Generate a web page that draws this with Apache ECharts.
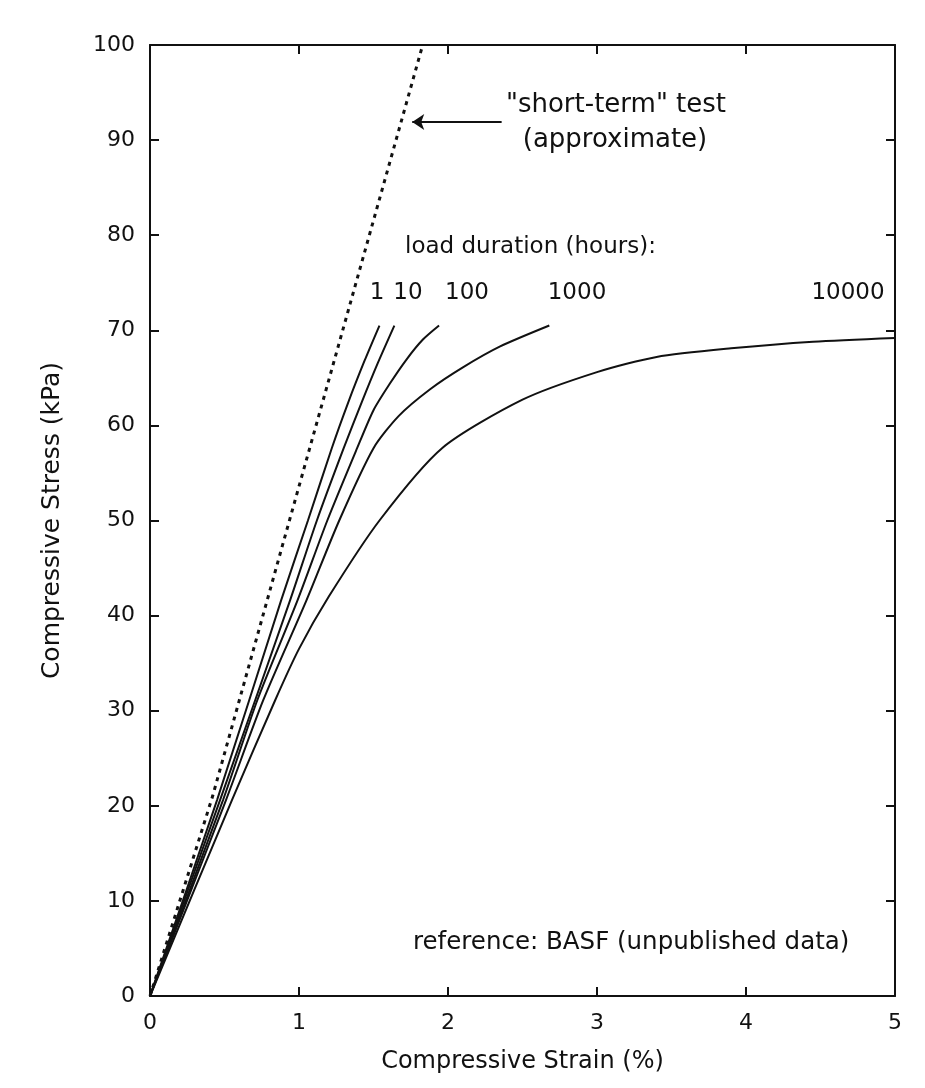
<!DOCTYPE html>
<html lang="en">
<head>
    <meta charset="UTF-8">
    <title>Compressive creep</title>
    <script src="https://cdn.jsdelivr.net/npm/echarts@6/dist/echarts.min.js"></script>
    <style>
        html, body { margin: 0; padding: 0; background: #fff; }
    </style>
</head>
<body>
    <div id="main" style="width: 925px;height:1088px;"></div>
    <script type="text/javascript">
        // strain (%) vs stress (kPa)
        var shortTerm = [[0, 0], [0.42, 21], [0.9, 48], [1.49, 81], [1.83, 100]];
        var hr1 = [[0, 0], [0.45, 20.6], [0.88, 41.6], [1.06, 50], [1.22, 57.6], [1.33, 62.4], [1.44, 66.8], [1.54, 70.5]];
        var hr10 = [[0, 0], [0.47, 20.6], [0.94, 41.6], [1.12, 50], [1.30, 57.6], [1.42, 62.4], [1.53, 66.6], [1.64, 70.5]];
        var hr100 = [[0, 0], [0.49, 20.6], [0.72, 31.1], [0.99, 41.6], [1.19, 50], [1.39, 57.6], [1.50, 61.6], [1.61, 64.4], [1.72, 66.9], [1.83, 69.0], [1.94, 70.5]];
        var hr1000 = [[0, 0], [0.51, 20.6], [0.76, 31.1], [1.05, 41.6], [1.27, 50], [1.50, 57.6], [1.67, 61.0], [1.88, 63.8], [2.10, 66.1], [2.35, 68.3], [2.68, 70.5]];
        var hr10000 = [[0, 0], [0.55, 20.6], [0.84, 31.1], [1.0, 36.5], [1.2, 42], [1.54, 50], [1.96, 57.6], [2.5, 62.7], [3.0, 65.6], [3.4, 67.2], [3.9, 68.1], [4.45, 68.8], [5, 69.2]];

        var durationLabels = ['1', '10', '100', '1000', '10000'];
        var durationLabelX = [377, 408, 467, 577, 848];

        var ink = '#111';
        var font = '"DejaVu Sans", sans-serif';

        var myChart = echarts.init(document.getElementById('main'));

        function curve(name, data) {
            return {
                name: name,
                type: 'line',
                data: data,
                smooth: 0.25,
                symbol: 'none',
                lineStyle: { color: ink, width: 2 },
                z: 3
            };
        }

        function note(text, x, y, size, align) {
            return {
                type: 'text',
                x: x,
                y: y,
                style: {
                    text: text,
                    fontFamily: font,
                    fontSize: size,
                    fill: ink,
                    align: align || 'left',
                    verticalAlign: 'middle'
                }
            };
        }

        var graphics = [
            note('"short-term" test', 616, 105, 26, 'center'),
            note('(approximate)', 615, 140, 26, 'center'),
            note('load duration (hours):', 405, 247, 23),
            note('reference: BASF (unpublished data)', 413, 943, 24.5)
        ];
        durationLabels.forEach(function (t, i) {
            graphics.push(note(t, durationLabelX[i], 293, 23, 'center'));
        });

        var axisCommon = {
            axisLine: { show: true, onZero: false, lineStyle: { color: ink, width: 2 } },
            axisTick: { show: true, inside: true, length: 9, lineStyle: { color: ink, width: 2 } },
            splitLine: { show: false }
        };

        var option = {
            backgroundColor: '#fff',
            animation: false,
            grid: { left: 150, right: 30, top: 45, bottom: 92 },
            xAxis: [
                Object.assign({
                    type: 'value', min: 0, max: 5, interval: 1, position: 'bottom',
                    name: 'Compressive Strain (%)', nameLocation: 'middle', nameGap: 54,
                    nameTextStyle: { fontFamily: font, fontSize: 24, color: ink },
                    axisLabel: { fontFamily: font, fontSize: 22, color: ink, margin: 16 }
                }, axisCommon),
                Object.assign({
                    type: 'value', min: 0, max: 5, interval: 1, position: 'top',
                    axisLabel: { show: false }
                }, axisCommon)
            ],
            yAxis: [
                Object.assign({
                    type: 'value', min: 0, max: 100, interval: 10, position: 'left',
                    name: 'Compressive Stress (kPa)', nameLocation: 'middle', nameGap: 85,
                    nameTextStyle: { fontFamily: font, fontSize: 25, color: ink },
                    axisLabel: { fontFamily: font, fontSize: 22, color: ink, margin: 15 }
                }, axisCommon),
                Object.assign({
                    type: 'value', min: 0, max: 100, interval: 10, position: 'right',
                    axisLabel: { show: false }
                }, axisCommon)
            ],
            series: [
                {
                    name: 'short-term',
                    type: 'line',
                    data: shortTerm,
                    symbol: 'none',
                    lineStyle: { color: ink, width: 3, type: [4, 5] },
                    z: 4,
                    markLine: {
                        silent: true,
                        symbol: ['none', 'arrow'],
                        symbolSize: 12,
                        label: { show: false },
                        lineStyle: { color: ink, width: 2, type: 'solid' },
                        data: [[{ coord: [2.36, 91.9] }, { coord: [1.76, 91.9] }]]
                    }
                },
                curve('1', hr1),
                curve('10', hr10),
                curve('100', hr100),
                curve('1000', hr1000),
                curve('10000', hr10000)
            ],
            graphic: graphics
        };

        myChart.setOption(option);
    </script>
</body>
</html>
